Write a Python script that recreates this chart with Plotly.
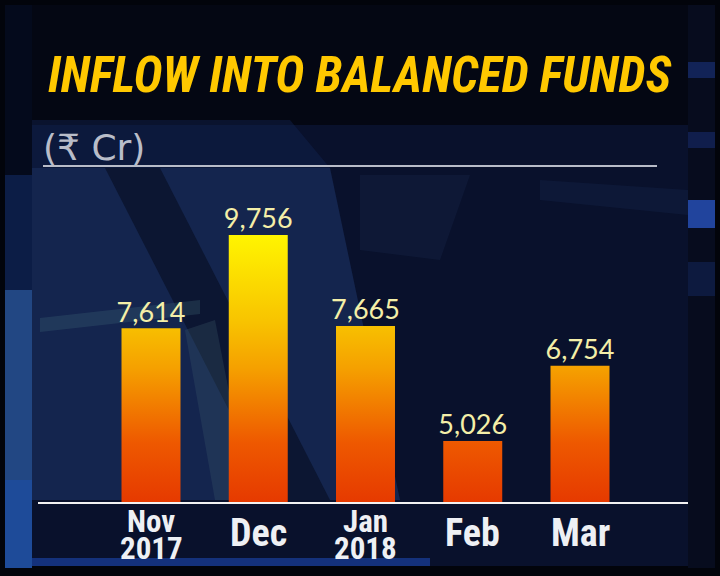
import plotly.graph_objects as go

# ---------------- data ----------------
categories = ["Nov<br>2017", "Dec", "Jan<br>2018", "Feb", "Mar"]
values = [7614, 9756, 7665, 5026, 6754]
value_labels = ["7,614", "9,756", "7,665", "5,026", "6,754"]
title_text = "INFLOW INTO BALANCED FUNDS"
unit_text = "(₹ Cr)"

# ---------------- layout geometry (pixels) ----------------
FW, FH = 720, 576
L, R, T, B = 38, 688, 166, 502
PW, PH = R - L, B - T
Y0 = 3625                      # axis floor (truncated axis)
PX_PER_UNIT = 0.04355
Y1 = Y0 + PH / PX_PER_UNIT
X_STEP = 107.25
X_FIRST = 151
XR = [(L - X_FIRST) / X_STEP, (R - X_FIRST) / X_STEP]
BAR_W = 0.55
COND = "Roboto Condensed, Liberation Sans Narrow, Roboto, sans-serif"


def px(x):
    return (x - L) / PW


def py(y):
    return (B - y) / PH


fig = go.Figure()

# bars as gradient-filled polygons (global vertical gradient)
grad = [[0.0, "#e63a00"], [0.22, "#ee5800"], [0.5, "#f5a000"],
        [0.68, "#f8c400"], [1.0, "#fff500"]]
for i, v in enumerate(values):
    xs = [i - BAR_W / 2, i - BAR_W / 2, i + BAR_W / 2, i + BAR_W / 2, i - BAR_W / 2]
    ys = [Y0, v, v, Y0, Y0]
    fig.add_trace(go.Scatter(
        x=xs, y=ys, mode="lines", fill="toself",
        line=dict(width=0, color="rgba(0,0,0,0)"),
        fillgradient=dict(type="vertical", colorscale=grad, start=Y0, stop=max(values)),
        hoverinfo="skip", showlegend=False,
    ))

# value labels
fig.add_trace(go.Scatter(
    x=list(range(len(values))), y=values, mode="text",
    text=value_labels, textposition="top center",
    textfont=dict(family="Lato, Noto Sans, sans-serif", size=27, color="#f4efa8"),
    hoverinfo="skip", showlegend=False,
))

# ---------------- background shapes ----------------
shapes = []


def rect(x0, y0, x1, y1, color, opacity=1.0):
    shapes.append(dict(type="rect", xref="paper", yref="paper",
                       x0=px(x0), x1=px(x1), y0=py(y1), y1=py(y0),
                       fillcolor=color, opacity=opacity, line=dict(width=0),
                       layer="below"))


def poly(points, color, opacity=1.0):
    path = "M " + " L ".join(f"{px(a):.5f},{py(b):.5f}" for a, b in points) + " Z"
    shapes.append(dict(type="path", xref="paper", yref="paper", path=path,
                       fillcolor=color, opacity=opacity, line=dict(width=0),
                       layer="below"))


# side strips
rect(5, 5, 32, 568, "#0c1d46")
rect(5, 5, 32, 175, "#040a1c")
rect(5, 290, 32, 480, "#2a5598", 0.75)
rect(5, 480, 32, 568, "#2253a8", 0.85)
rect(688, 5, 715, 568, "#070c1e")
rect(688, 62, 715, 78, "#1d3a90", 0.5)
rect(688, 132, 715, 148, "#1d3a90", 0.4)
rect(688, 200, 715, 228, "#2b57c8", 0.75)
rect(688, 262, 715, 296, "#1d3a90", 0.3)
# main panel
rect(32, 5, 688, 566, "#09112c")
rect(32, 5, 688, 125, "#03060f", 0.85)
poly([(32, 168), (330, 168), (400, 500), (32, 500)], "#1a2e5c", 0.7)
poly([(32, 120), (290, 120), (330, 168), (32, 168)], "#122350", 0.45)
poly([(105, 168), (160, 168), (330, 500), (275, 500)], "#040816", 0.5)
poly([(40, 318), (200, 300), (200, 314), (40, 332)], "#3f6878", 0.3)
poly([(185, 330), (215, 320), (250, 500), (215, 500)], "#3a5a6a", 0.3)
poly([(360, 175), (470, 175), (440, 260), (360, 250)], "#1c2a50", 0.3)
poly([(540, 180), (688, 190), (688, 215), (540, 200)], "#2a4478", 0.15)
rect(32, 558, 430, 566, "#1d48b0", 0.6)

# rule under the unit label
shapes.append(dict(type="line", xref="paper", yref="paper",
                   x0=px(43), x1=px(657), y0=py(166), y1=py(166),
                   line=dict(color="#b8bcc8", width=2)))

# ---------------- annotations ----------------
annotations = [
    dict(text=title_text, xref="paper", yref="paper", x=px(359), y=py(75),
         xanchor="center", yanchor="middle", showarrow=False,
         font=dict(family=COND, size=49, color="#ffc800", weight="bold", style="italic")),
    dict(text=unit_text, xref="paper", yref="paper", x=px(41), y=py(147),
         xanchor="left", yanchor="middle", showarrow=False,
         font=dict(family="DejaVu Sans, sans-serif", size=36, color="#b9bdc9")),
]
for i, c in enumerate(categories):
    parts = c.split("<br>")
    if len(parts) == 2:
        for part, ypix in zip(parts, (521, 548)):
            annotations.append(dict(
                text=part, xref="x", yref="paper", x=i, y=py(ypix),
                xanchor="center", yanchor="middle", showarrow=False,
                font=dict(family=COND, size=31, color="#eef0f4", weight="bold"),
            ))
    else:
        annotations.append(dict(
            text=c, xref="x", yref="paper", x=i, y=py(533),
            xanchor="center", yanchor="middle", showarrow=False,
            font=dict(family=COND, size=38, color="#eef0f4", weight="bold"),
        ))

fig.update_layout(
    width=FW, height=FH,
    margin=dict(l=L, r=FW - R, t=T, b=FH - B),
    paper_bgcolor="#02040b",
    plot_bgcolor="rgba(0,0,0,0)",
    shapes=shapes,
    annotations=annotations,
    showlegend=False,
    xaxis=dict(range=XR, showgrid=False, zeroline=False, showticklabels=False,
               showline=True, linecolor="#f2f2f2", linewidth=2, fixedrange=True),
    yaxis=dict(range=[Y0, Y1], showgrid=False, zeroline=False, showticklabels=False,
               showline=False, fixedrange=True),
)

fig.write_html("out.html", config={"displayModeBar": False},
               post_script="document.body.style.margin='0';")
